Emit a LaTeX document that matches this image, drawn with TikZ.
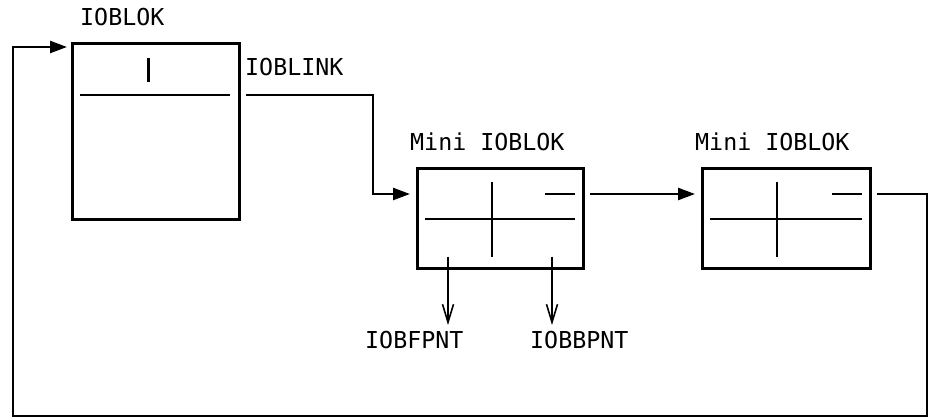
\documentclass[tikz,border=0pt]{standalone}
\usepackage{fontspec}
\setmonofont{DejaVu Sans Mono}
\usetikzlibrary{positioning, arrows.meta}
\newcommand{\minifields}[1]{%
  \draw[field] ([shift={(8,50)}]#1.north west) -- ([shift={(-8,50)}]#1.north east);
  \draw[field] ([shift={(75,13)}]#1.north west) -- ([shift={(75,88)}]#1.north west);
  \draw[field] ([shift={(-38,25)}]#1.north east) -- ([shift={(-8,25)}]#1.north east);
}

\begin{document}
\begin{tikzpicture}[x=1pt, y=-1pt, font=\ttfamily\fontsize{23.3}{26}\selectfont,
  blok/.style={draw, line width=3pt, inner sep=0pt, outer sep=0pt, anchor=north west},
  field/.style={line width=2.6pt},
  link/.style={line width=2.4pt, -{Triangle[length=17pt, width=12pt]}},
  ptr/.style={line width=2.6pt, -{Straight Barb[length=18pt, width=11pt, line width=1.6pt]}},
  lbl/.style={inner sep=0pt, anchor=base west}]
  \useasboundingbox (0,0) rectangle (932,419);
  % blocks
  \node[blok, minimum width=167pt, minimum height=176pt] (ioblok) at (72,44) {};
  \node[blok, minimum width=166pt, minimum height=100pt] (mini1) at (417,169) {};
  \node[blok, minimum width=168pt, minimum height=100pt] (mini2) at (702,169) {};
  % fields
  \draw[field] ([shift={(8,51)}]ioblok.north west) -- ([shift={(-9,51)}]ioblok.north east);
  \draw[field, line width=3pt] ([shift={(76,14)}]ioblok.north west) -- ++(0,24);
  \minifields{mini1}
  \minifields{mini2}
  % labels
  \node[lbl] (ioblokname) at (80,26) {IOBLOK};
  \node[lbl] (linkname) at (245,76) {IOBLINK};
  \node[lbl] (mini1name) at (410,151) {Mini IOBLOK};
  \node[lbl] (mini2name) at (695,151) {Mini IOBLOK};
  \node[lbl] (fpntname) at (365,349) {IOBFPNT};
  \node[lbl] (bpntname) at (530,349) {IOBBPNT};
  % connectors
  \coordinate (linkout) at ([shift={(7,51)}]ioblok.north east);
  \coordinate (in0) at ([shift={(-5,3)}]ioblok.north west);
  \coordinate (in1) at ([shift={(-7,25)}]mini1.north west);
  \coordinate (out1) at ([shift={(7,25)}]mini1.north east);
  \coordinate (in2) at ([shift={(-7,25)}]mini2.north west);
  \coordinate (out2) at ([shift={(7,25)}]mini2.north east);
  \draw[link] (linkout) -| ([xshift=-37pt]in1) -- (in1);
  \draw[link] (out1) -- (in2);
  \draw[link] (out2) -| ++(50,222) -| ([xshift=-54pt]in0) -- (in0);
  \draw[ptr] ([shift={(31,-12)}]mini1.south west) -- ++(0,68);
  \draw[ptr] ([shift={(135,-12)}]mini1.south west) -- ++(0,68);
\end{tikzpicture}
\end{document}
